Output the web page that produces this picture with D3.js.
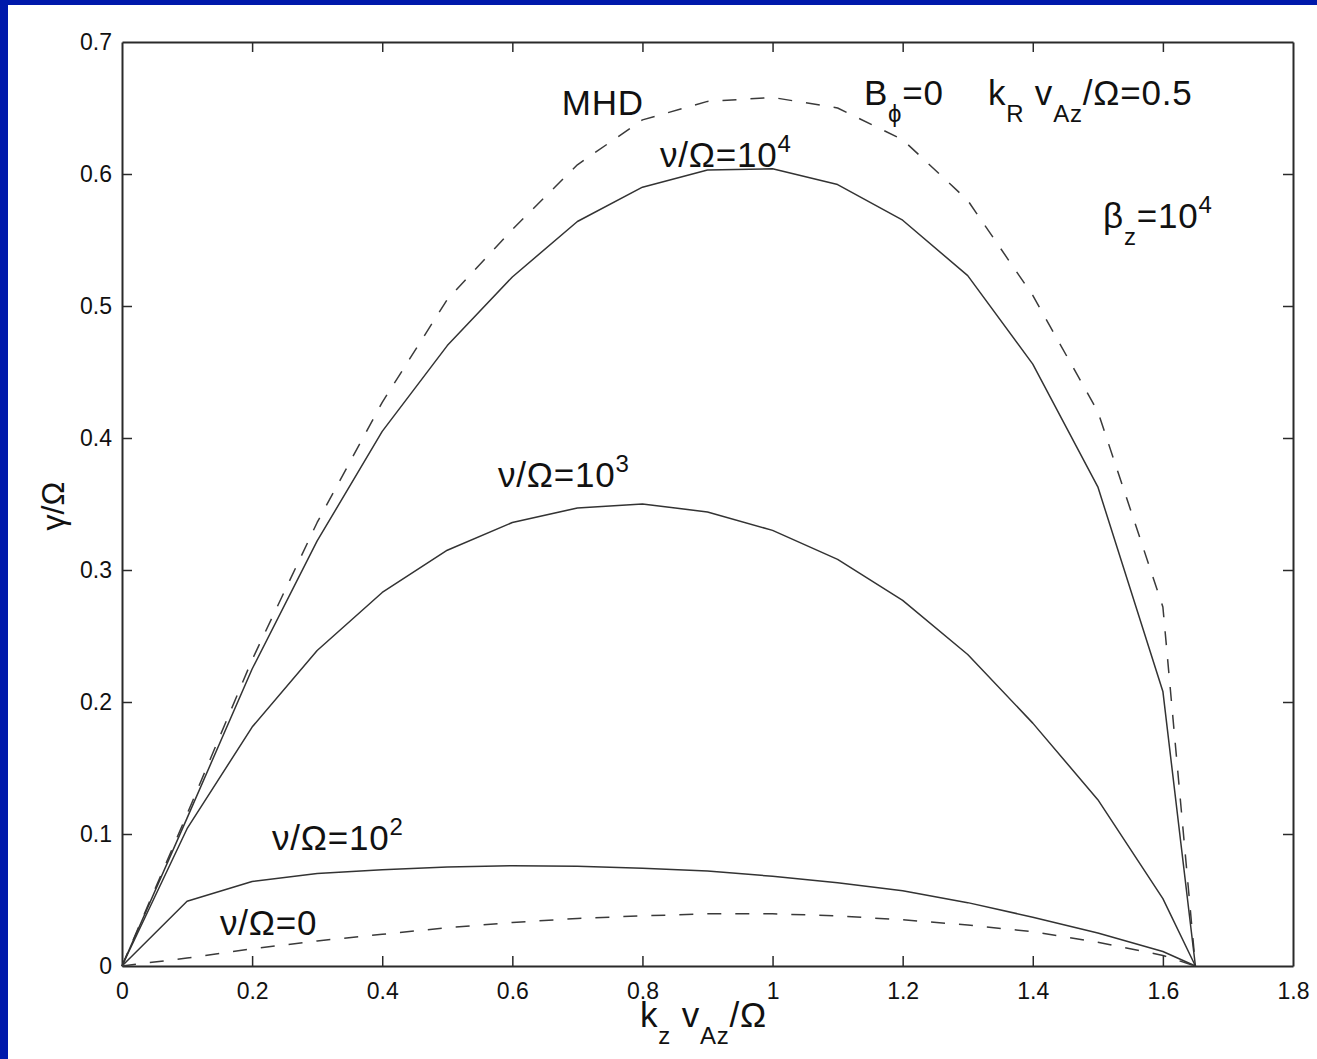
<!DOCTYPE html>
<html>
<head>
<meta charset="utf-8">
<script src="https://cdn.jsdelivr.net/npm/d3@7"></script>
<style>
  html, body { margin: 0; padding: 0; background: #0019ab; }
  svg { display: block; }
</style>
</head>
<body>
<svg id="chart" width="1317" height="1059"></svg>
<script>
// ---- data ----
const kz = [0, 0.1, 0.2, 0.3, 0.4, 0.5, 0.6, 0.7, 0.8, 0.9, 1.0, 1.1, 1.2, 1.3, 1.4, 1.5, 1.6, 1.65];
const gammaMHD   = [0, 0.115, 0.232, 0.336, 0.427, 0.505, 0.558, 0.607, 0.641, 0.655, 0.658, 0.650, 0.626, 0.580, 0.508, 0.420, 0.272, 0];
const gammaNu1e4 = [0, 0.112, 0.225, 0.322, 0.405, 0.470, 0.522, 0.564, 0.590, 0.603, 0.604, 0.592, 0.565, 0.523, 0.456, 0.363, 0.208, 0];
const gammaNu1e3 = [0, 0.104, 0.181, 0.239, 0.283, 0.315, 0.336, 0.347, 0.350, 0.344, 0.330, 0.308, 0.277, 0.236, 0.184, 0.126, 0.051, 0];
const gammaNu1e2 = [0, 0.049, 0.064, 0.070, 0.073, 0.075, 0.076, 0.0755, 0.074, 0.072, 0.068, 0.063, 0.057, 0.048, 0.037, 0.025, 0.011, 0];
const gammaNu0   = [0, 0.006, 0.013, 0.019, 0.024, 0.029, 0.033, 0.036, 0.038, 0.0395, 0.0395, 0.038, 0.035, 0.031, 0.026, 0.018, 0.008, 0];

const xTicks = [0, 0.2, 0.4, 0.6, 0.8, 1.0, 1.2, 1.4, 1.6, 1.8];
const xTickLabels = ["0", "0.2", "0.4", "0.6", "0.8", "1", "1.2", "1.4", "1.6", "1.8"];
const yTicks = [0, 0.1, 0.2, 0.3, 0.4, 0.5, 0.6, 0.7];
const yTickLabels = ["0", "0.1", "0.2", "0.3", "0.4", "0.5", "0.6", "0.7"];

const seriesNames = ["MHD", "nu1e4", "nu1e3", "nu1e2", "nu0"];
const seriesValues = [gammaMHD, gammaNu1e4, gammaNu1e3, gammaNu1e2, gammaNu0];
const seriesDashed = [true, false, false, false, true];

// annotation texts: segments [text, kind]  kind: b = base, sub, sup
const annoTexts = [
  [["MHD", "b"]],
  [["B", "b"], ["\u03D5", "sub"], ["=0", "b"]],
  [["k", "b"], ["R", "sub"], [" v", "b"], ["Az", "sub"], ["/\u03A9=0.5", "b"]],
  [["\u03B2", "b"], ["z", "sub"], ["=10", "b"], ["4", "sup"]],
  [["\u03BD/\u03A9=10", "b"], ["4", "sup"]],
  [["\u03BD/\u03A9=10", "b"], ["3", "sup"]],
  [["\u03BD/\u03A9=10", "b"], ["2", "sup"]],
  [["\u03BD/\u03A9=0", "b"]]
];
// anchor of each annotation in data coordinates (kz, gamma)
const annoKz    = [0.676, 1.1405, 1.331, 1.508, 0.827, 0.578, 0.2306, 0.1506];
const annoGamma = [0.645, 0.6523, 0.6523, 0.5591, 0.6053, 0.3629, 0.0879, 0.0235];

const xLabel = [["k", "b"], ["z", "sub"], [" v", "b"], ["Az", "sub"], ["/\u03A9", "b"]];
const yLabel = "\u03B3/\u03A9";

// ---- drawing ----
const W = 1317, H = 1059;
const svg = d3.select("#chart");
const FONT = "'Liberation Sans', Arial, Helvetica, sans-serif";

svg.append("rect").attr("x", 0).attr("y", 0).attr("width", W).attr("height", H).attr("fill", "#0019ab");
svg.append("rect").attr("x", 8).attr("y", 5).attr("width", W - 8).attr("height", H - 5).attr("fill", "#ffffff");

const x = d3.scaleLinear().domain([0, 1.8]).range([122, 1293]);
const y = d3.scaleLinear().domain([0, 0.7]).range([966, 42]);

const axisColor = "#2a2a2a";
const tickFont = 23;

function styleAxis(g) {
  g.selectAll("path.domain").attr("stroke", axisColor).attr("stroke-width", 2);
  g.selectAll(".tick line").attr("stroke", axisColor).attr("stroke-width", 1.5);
  g.selectAll(".tick text").attr("fill", "#111").style("font-family", FONT).style("font-size", tickFont + "px");
}

const gx = svg.append("g").attr("transform", `translate(0,${y(0)})`)
  .call(d3.axisBottom(x).tickValues(xTicks).tickFormat((d, i) => xTickLabels[i]).tickSizeInner(-10).tickSizeOuter(0).tickPadding(17));
styleAxis(gx);
const gxTop = svg.append("g").attr("transform", `translate(0,${y(0.7)})`)
  .call(d3.axisTop(x).tickValues(xTicks).tickFormat("").tickSizeInner(-10).tickSizeOuter(0));
styleAxis(gxTop);
const gy = svg.append("g").attr("transform", `translate(${x(0)},0)`)
  .call(d3.axisLeft(y).tickValues(yTicks).tickFormat((d, i) => yTickLabels[i]).tickSizeInner(-10).tickSizeOuter(0).tickPadding(10));
styleAxis(gy);
const gyRight = svg.append("g").attr("transform", `translate(${x(1.8)},0)`)
  .call(d3.axisRight(y).tickValues(yTicks).tickFormat("").tickSizeInner(-10).tickSizeOuter(0));
styleAxis(gyRight);
[gx, gxTop].forEach(g => g.selectAll(".tick").filter(d => d === 0 || d === 1.8).select("line").remove());
[gy, gyRight].forEach(g => g.selectAll(".tick").filter(d => d === 0 || d === 0.7).select("line").remove());

// curves
const line = d3.line().x(d => x(d[0])).y(d => y(d[1]));
seriesValues.forEach((vals, i) => {
  const pts = kz.map((k, j) => [k, vals[j]]);
  svg.append("path")
    .datum(pts)
    .attr("class", "series " + seriesNames[i])
    .attr("d", line)
    .attr("fill", "none")
    .attr("stroke", seriesDashed[i] ? "#3a3a3a" : "#333")
    .attr("stroke-width", 1.5)
    .attr("stroke-dasharray", seriesDashed[i] ? "14,14" : null)
    .attr("stroke-linejoin", "round");
});

// rich text helper
const ANNO_FONT = 35, SMALL_FONT = 24, SUB_SHIFT = 17, SUP_SHIFT = -15;
function richText(parent, segs, px, py, baseSize, smallSize, subShift, supShift, spacing) {
  const t = parent.append("text")
    .attr("x", px).attr("y", py)
    .attr("fill", "#111")
    .style("font-family", FONT)
    .style("font-size", baseSize + "px")
    .style("letter-spacing", spacing + "px");
  let cur = 0;
  segs.forEach(([txt, kind]) => {
    let target = 0, size = baseSize;
    if (kind === "sub") { target = subShift; size = smallSize; }
    if (kind === "sup") { target = supShift; size = smallSize; }
    t.append("tspan")
      .attr("dy", target - cur)
      .style("font-size", size + "px")
      .style("white-space", "pre")
      .attr("xml:space", "preserve")
      .text(txt);
    cur = target;
  });
  return t;
}

annoTexts.forEach((segs, i) => {
  richText(svg, segs, x(annoKz[i]), y(annoGamma[i]), ANNO_FONT, SMALL_FONT, SUB_SHIFT, SUP_SHIFT, 0.8);
});

// axis labels
richText(svg, xLabel, 640, 1027, ANNO_FONT, SMALL_FONT, SUB_SHIFT, SUP_SHIFT, 0.8);
svg.append("text")
  .attr("transform", `translate(64,${(y(0) + y(0.7)) / 2 + 2}) rotate(-90)`)
  .attr("text-anchor", "middle")
  .attr("fill", "#111")
  .style("font-family", FONT)
  .style("font-size", "32px")
  .text(yLabel);
</script>
</body>
</html>
